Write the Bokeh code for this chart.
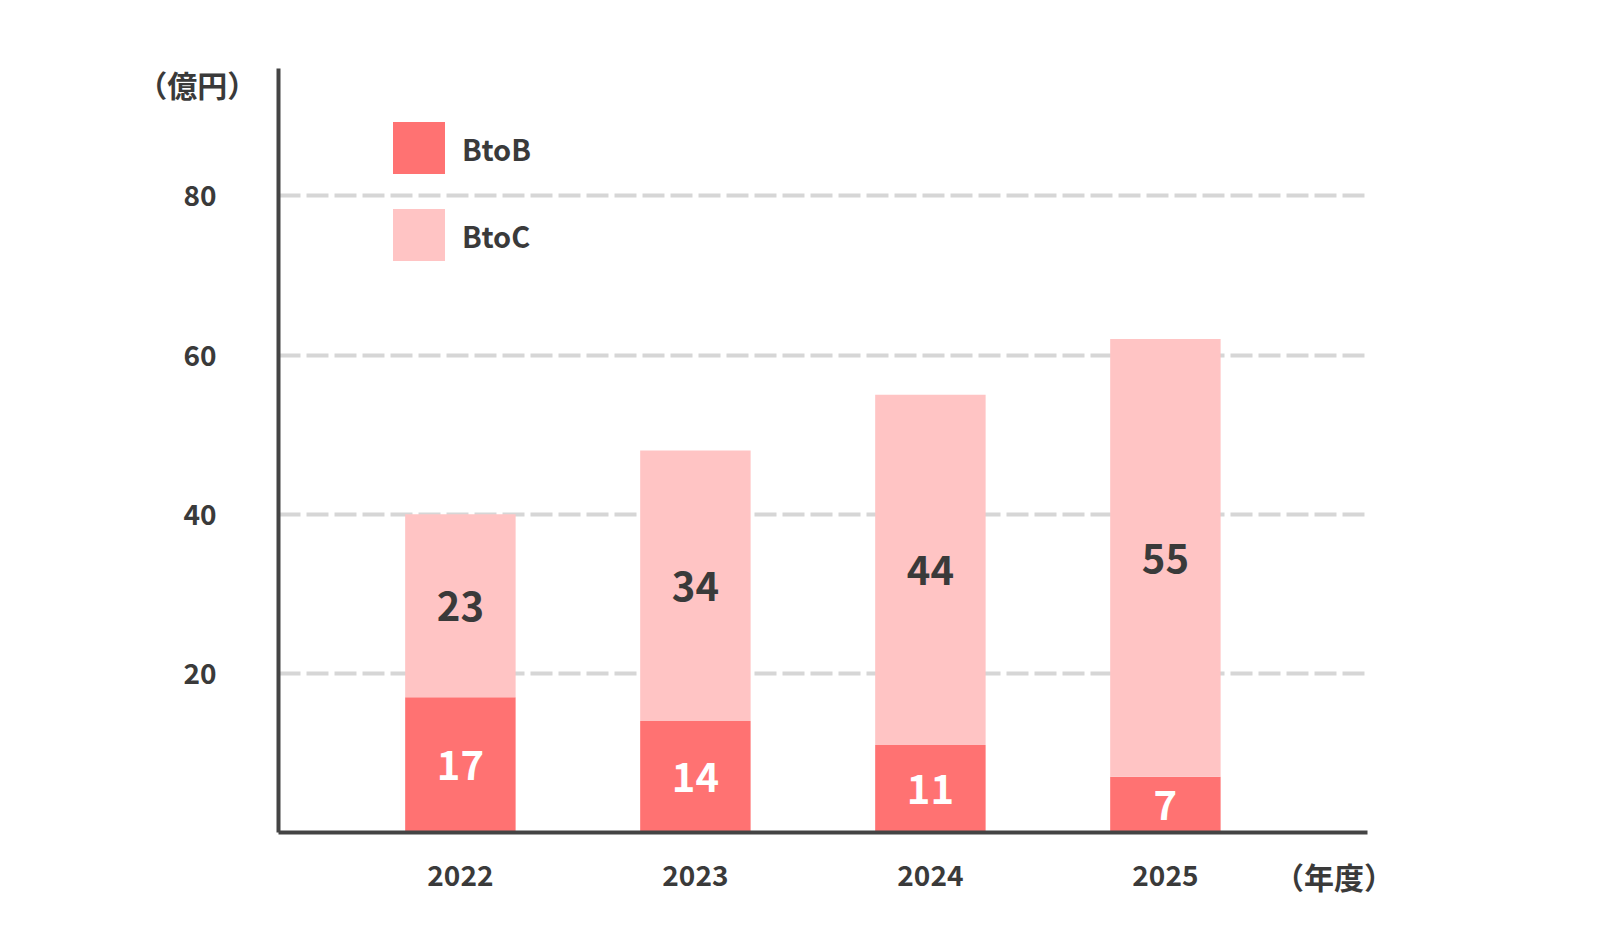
from bokeh.plotting import figure
from bokeh.models import Range1d, FixedTicker, ColumnDataSource, Label
from bokeh.core.properties import value
from bokeh.embed import file_html
from bokeh.resources import INLINE

years = [2022, 2023, 2024, 2025]
year_labels = ["2022", "2023", "2024", "2025"]
btob = [17, 14, 11, 7]
btoc = [23, 34, 44, 55]
y_ticks = [20, 40, 60, 80]

FONT = "Noto Sans CJK JP"
C_B = "#FF7272"
C_C = "#FFC4C4"
DARK = "#3a3a3a"

total = [b + c for b, c in zip(btob, btoc)]
src = ColumnDataSource(dict(
    x=years,
    btob=btob,
    btoc=btoc,
    total=total,
    zero=[0] * len(years),
    mid_b=[b / 2 for b in btob],
    mid_c=[b + c / 2 for b, c in zip(btob, btoc)],
    lab_b=[str(v) for v in btob],
    lab_c=[str(v) for v in btoc],
))

p = figure(width=1610, height=945, output_backend="svg", toolbar_location=None,
           x_range=Range1d(2021.226, 2025.86), y_range=Range1d(0, 96),
           min_border_left=278, min_border_right=243, min_border_top=68, min_border_bottom=113)
p.outline_line_color = None
p.background_fill_color = "white"

p.vbar(x="x", width=0.47, bottom="zero", top="btob", source=src, color=C_B, line_color=None, legend_label="BtoB")
p.vbar(x="x", width=0.47, bottom="btob", top="total", source=src, color=C_C, line_color=None, legend_label="BtoC")

p.text(x="x", y="mid_b", text="lab_b", source=src, text_color="white", text_font=value(FONT),
       text_font_style="bold", text_font_size="40px", text_align="center", text_baseline="middle")
p.text(x="x", y="mid_c", text="lab_c", source=src, text_color=DARK, text_font=value(FONT),
       text_font_style="bold", text_font_size="40px", text_align="center", text_baseline="middle")

# grid
p.xgrid.grid_line_color = None
p.ygrid.ticker = FixedTicker(ticks=y_ticks)
p.ygrid.grid_line_color = "#D6D6D6"
p.ygrid.grid_line_width = 4
p.ygrid.grid_line_dash = "22 6"

# axes
for ax in (p.xaxis[0], p.yaxis[0]):
    ax.axis_line_color = "#444444"
    ax.axis_line_width = 4
    ax.major_tick_line_color = None
    ax.minor_tick_line_color = None
    ax.major_label_text_font = FONT
    ax.major_label_text_font_style = "bold"
    ax.major_label_text_font_size = "28px"
    ax.major_label_text_color = DARK

p.yaxis.ticker = FixedTicker(ticks=y_ticks)
p.yaxis.major_label_standoff = 56
p.xaxis.ticker = FixedTicker(ticks=years)
p.xaxis.major_label_overrides = {y: l for y, l in zip(years, year_labels)}
p.xaxis.major_label_standoff = 26

# unit labels (placed in side panels so they are not clipped by the frame)
p.add_layout(Label(x=2020.88, y=94.0, text="（億円）", text_font=FONT,
                   text_font_style="bold", text_font_size="30px", text_color=DARK,
                   text_align="center", text_baseline="middle"), "left")
p.add_layout(Label(x=2025.717, y=-5.5, text="（年度）", text_font=FONT,
                   text_font_style="bold", text_font_size="30px", text_color=DARK,
                   text_align="center", text_baseline="middle"), "below")

# legend
lg = p.legend[0]
lg.location = (108, 565)
lg.glyph_width = 65
lg.glyph_height = 65
lg.spacing = 22
lg.padding = 0
lg.margin = 0
lg.label_standoff = 11
lg.label_text_font = FONT
lg.label_text_font_style = "bold"
lg.label_text_font_size = "29px"
lg.label_text_color = DARK
lg.border_line_color = None
lg.background_fill_alpha = 0

open("out.html", "w").write(file_html(p, INLINE))
